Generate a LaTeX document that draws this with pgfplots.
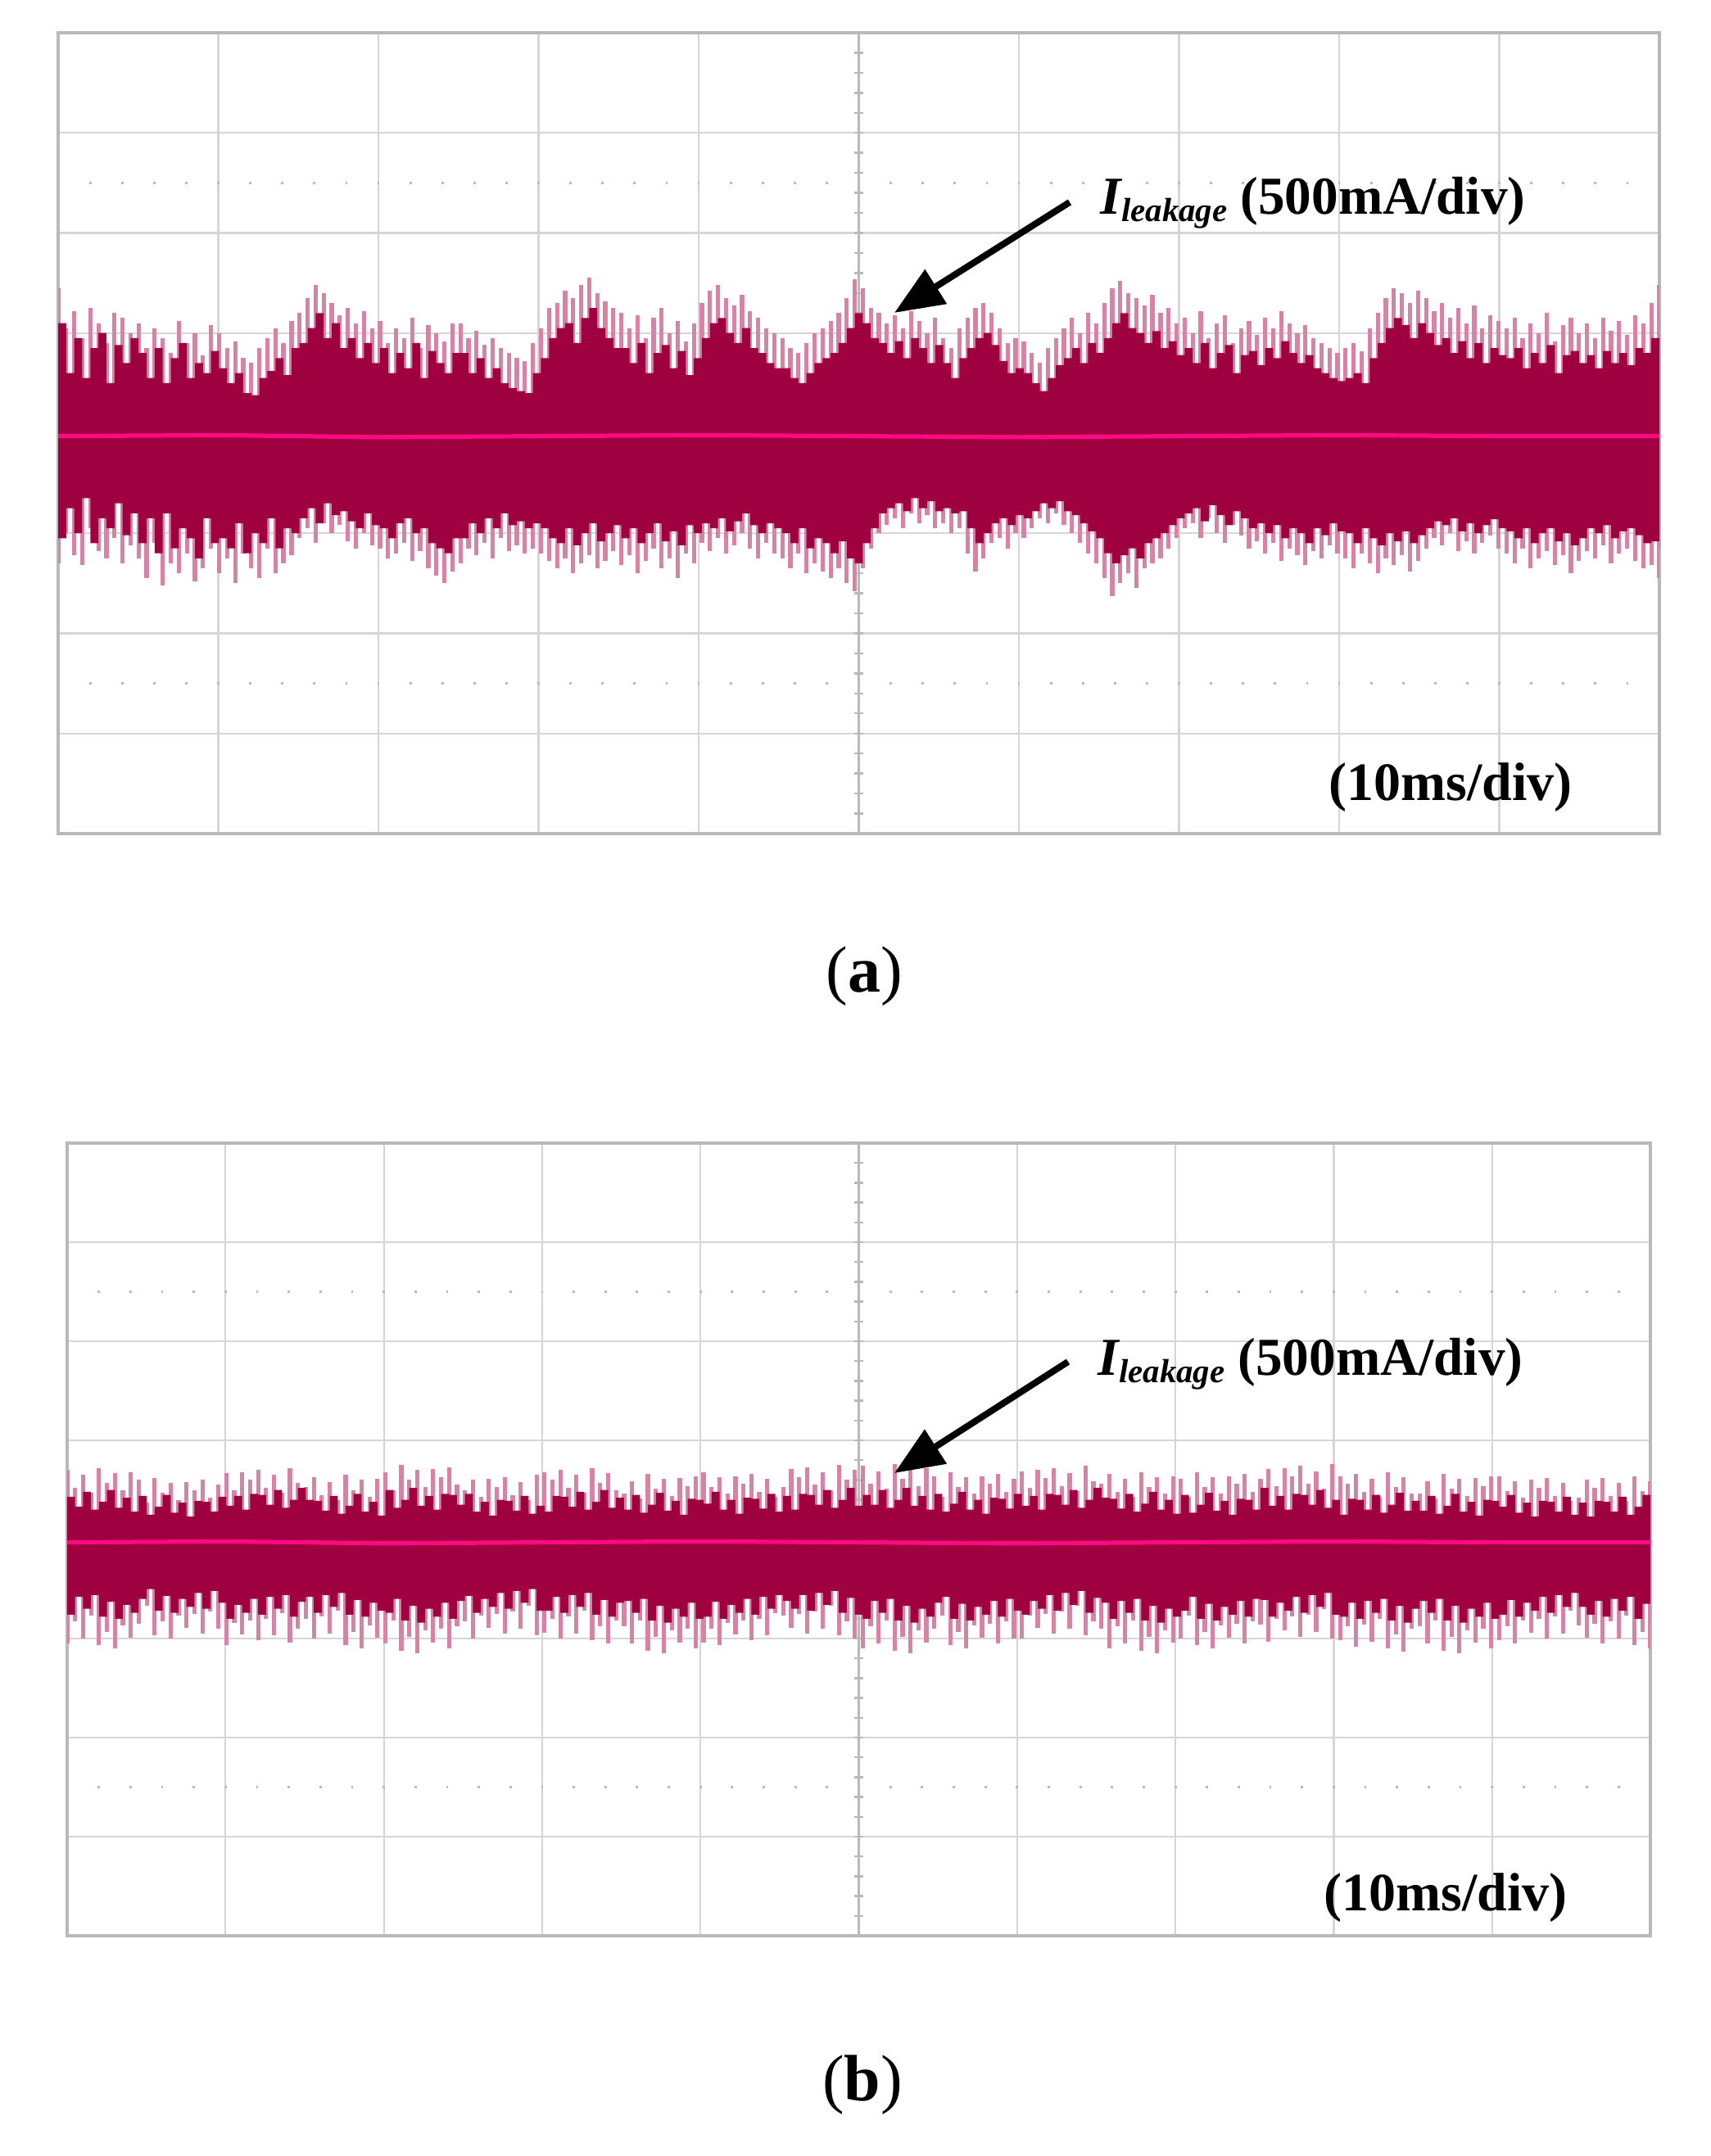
\documentclass[border=0pt]{standalone}
\usepackage{pgfplots}
\pgfplotsset{compat=1.18}
\usepackage{pgfplotstable}
\usepackage{fontspec}
\setmainfont{Liberation Serif}
\usetikzlibrary{arrows.meta}
\definecolor{crim}{RGB}{158,0,64}
\definecolor{spike}{RGB}{216,130,166}
\definecolor{hotp}{RGB}{255,10,130}
\definecolor{gridc}{RGB}{214,214,214}
\definecolor{framec}{RGB}{185,185,185}

\pgfplotstableread{
lu ll du dl
1.45 -1.30 1.10 -1.05
1.05 -1.00 0.60 -0.75
1.22 -1.22 0.95 -1.00
0.95 -1.32 0.55 -0.65
1.25 -0.95 0.85 -1.10
1.10 -1.18 1.00 -0.85
0.90 -1.25 0.50 -0.95
1.20 -1.05 0.88 -0.70
1.15 -1.30 0.70 -1.02
1.00 -1.12 0.95 -0.80
1.10 -1.25 0.80 -1.10
0.85 -1.45 0.55 -0.85
1.05 -1.10 0.85 -1.20
0.95 -1.52 0.50 -0.80
0.80 -1.30 0.75 -1.15
1.12 -1.40 0.90 -0.95
0.90 -1.20 0.55 -1.05
1.00 -1.48 0.70 -1.25
0.78 -1.35 0.60 -0.85
1.08 -1.15 0.82 -1.10
1.00 -1.40 0.65 -1.05
0.85 -1.25 0.50 -1.15
0.92 -1.50 0.60 -0.90
0.75 -1.20 0.40 -1.20
0.70 -1.35 0.38 -1.00
0.85 -1.45 0.55 -1.10
0.95 -1.15 0.62 -0.85
1.05 -1.40 0.75 -1.15
0.90 -1.30 0.58 -0.95
1.12 -1.22 0.85 -1.00
1.20 -1.05 0.90 -0.85
1.35 -0.95 1.05 -0.75
1.48 -1.10 1.20 -0.90
1.40 -0.90 0.95 -0.70
1.30 -1.00 1.10 -0.82
1.18 -0.92 0.85 -0.78
1.25 -1.08 0.95 -0.88
1.10 -1.15 0.75 -0.95
1.22 -1.00 0.90 -0.80
1.05 -1.12 0.70 -0.92
1.12 -1.15 0.85 -0.95
0.90 -1.25 0.60 -1.05
1.05 -1.20 0.80 -0.90
0.95 -1.10 0.65 -0.85
1.15 -1.28 0.90 -1.00
0.85 -1.18 0.55 -0.95
1.08 -1.35 0.82 -1.10
1.00 -1.42 0.70 -1.15
0.92 -1.50 0.60 -1.20
1.10 -1.38 0.80 -1.05
1.10 -1.30 0.80 -1.05
0.95 -1.15 0.60 -0.90
1.02 -1.22 0.75 -1.00
0.88 -1.10 0.55 -0.85
0.95 -1.25 0.65 -0.95
0.85 -1.05 0.50 -0.80
0.80 -1.18 0.45 -0.92
0.75 -1.12 0.42 -0.88
0.72 -1.20 0.40 -0.95
0.90 -1.15 0.60 -0.90
1.05 -1.20 0.75 -0.95
1.25 -1.28 0.95 -1.05
1.30 -1.35 1.05 -1.10
1.42 -1.25 1.10 -0.95
1.35 -1.40 0.90 -1.12
1.48 -1.30 1.15 -1.00
1.55 -1.22 1.25 -0.90
1.40 -1.35 1.05 -1.08
1.32 -1.28 0.95 -1.00
1.25 -1.18 0.85 -0.92
1.20 -1.32 0.85 -1.05
1.05 -1.22 0.70 -0.95
1.18 -1.40 0.90 -1.10
0.95 -1.28 0.60 -1.00
1.15 -1.15 0.80 -0.90
1.25 -1.35 0.88 -1.08
1.00 -1.25 0.65 -0.98
1.12 -1.45 0.82 -1.12
0.92 -1.20 0.58 -0.92
1.10 -1.30 0.75 -1.00
1.30 -1.10 0.95 -0.90
1.42 -1.18 1.10 -0.95
1.48 -1.05 1.15 -0.85
1.35 -1.20 1.00 -0.98
1.28 -1.12 0.90 -0.88
1.38 -1.00 1.05 -0.80
1.22 -1.15 0.85 -0.92
1.15 -1.25 0.80 -1.00
1.05 -1.10 0.70 -0.90
1.00 -1.20 0.65 -0.95
0.95 -1.25 0.65 -1.00
0.85 -1.35 0.55 -1.10
0.80 -1.20 0.50 -0.95
0.90 -1.40 0.60 -1.15
1.00 -1.30 0.70 -1.05
1.05 -1.38 0.75 -1.10
1.12 -1.45 0.80 -1.20
1.20 -1.35 0.90 -1.08
1.35 -1.50 1.05 -1.25
1.54 -1.58 1.20 -1.30
1.45 -1.35 1.10 -1.10
1.25 -1.15 0.95 -0.95
1.20 -1.00 0.90 -0.80
1.10 -0.92 0.80 -0.75
1.18 -0.85 0.92 -0.70
1.05 -0.95 0.75 -0.78
1.22 -0.80 0.95 -0.65
1.12 -0.90 0.85 -0.75
1.00 -0.82 0.70 -0.68
1.15 -0.95 0.88 -0.78
0.95 -0.90 0.70 -0.75
0.85 -1.00 0.55 -0.80
1.05 -0.95 0.75 -0.78
1.15 -1.20 0.85 -0.95
1.25 -1.38 0.95 -1.10
1.30 -1.25 1.00 -1.00
1.20 -1.10 0.88 -0.90
1.05 -1.05 0.72 -0.85
0.90 -1.15 0.60 -0.92
0.95 -1.00 0.65 -0.82
0.92 -1.05 0.60 -0.85
0.80 -0.95 0.50 -0.78
0.70 -0.85 0.42 -0.70
0.85 -0.90 0.55 -0.75
0.95 -0.80 0.68 -0.68
1.05 -0.92 0.75 -0.78
1.15 -1.00 0.85 -0.82
1.00 -1.10 0.70 -0.90
1.20 -1.20 0.90 -0.98
1.10 -1.30 0.80 -1.05
1.30 -1.45 0.95 -1.20
1.45 -1.63 1.10 -1.30
1.52 -1.50 1.20 -1.22
1.40 -1.40 1.05 -1.15
1.35 -1.55 1.00 -1.25
1.28 -1.35 0.90 -1.10
1.38 -1.30 1.02 -1.05
1.20 -1.25 0.85 -1.00
1.25 -1.15 0.92 -0.92
1.10 -1.05 0.78 -0.85
1.15 -0.95 0.85 -0.80
1.00 -0.90 0.70 -0.75
1.22 -1.05 0.90 -0.88
0.95 -0.85 0.65 -0.72
1.10 -1.00 0.80 -0.82
1.18 -1.10 0.88 -0.92
0.90 -0.92 0.60 -0.78
1.05 -1.02 0.78 -0.85
1.12 -1.15 0.82 -0.95
0.98 -1.08 0.68 -0.90
1.15 -1.20 0.85 -1.00
1.05 -1.10 0.75 -0.92
1.22 -1.28 0.92 -1.05
1.10 -1.15 0.80 -0.95
1.00 -1.22 0.70 -1.00
1.08 -1.32 0.78 -1.10
0.95 -1.18 0.65 -0.95
0.90 -1.25 0.60 -1.02
0.85 -1.12 0.55 -0.90
0.80 -1.20 0.52 -0.98
0.85 -1.25 0.55 -1.00
0.90 -1.35 0.60 -1.10
0.82 -1.20 0.50 -0.95
1.05 -1.30 0.75 -1.05
1.20 -1.40 0.90 -1.12
1.35 -1.25 1.05 -1.00
1.45 -1.32 1.15 -1.08
1.40 -1.22 1.08 -0.98
1.30 -1.38 0.95 -1.10
1.42 -1.28 1.10 -1.02
1.35 -1.15 1.00 -0.95
1.22 -1.05 0.88 -0.88
1.30 -1.12 0.95 -0.92
1.15 -1.00 0.80 -0.85
1.25 -1.18 0.92 -0.98
1.10 -1.08 0.75 -0.90
1.28 -1.20 0.90 -1.00
1.05 -1.10 0.70 -0.92
1.18 -1.02 0.85 -0.86
1.12 -1.15 0.78 -0.95
1.05 -1.20 0.75 -0.98
1.15 -1.30 0.85 -1.05
0.95 -1.15 0.65 -0.95
1.10 -1.35 0.80 -1.10
1.00 -1.25 0.70 -1.00
1.20 -1.18 0.88 -0.95
0.92 -1.32 0.60 -1.08
1.08 -1.22 0.78 -1.00
1.15 -1.40 0.82 -1.12
1.00 -1.28 0.70 -1.05
1.10 -1.18 0.78 -0.95
0.95 -1.25 0.65 -1.00
1.15 -1.12 0.82 -0.92
1.02 -1.30 0.70 -1.05
1.12 -1.20 0.80 -0.98
0.98 -1.15 0.68 -0.95
1.18 -1.28 0.85 -1.02
1.10 -1.35 0.80 -1.10
1.30 -1.32 0.95 -1.08
1.48 -1.45 1.15 -1.15
}\dataA

\pgfplotstableread{
lu ll du dl
0.70 -1.05 0.43 -0.76
0.52 -0.83 0.33 -0.58
0.65 -1.00 0.48 -0.70
0.47 -0.77 0.30 -0.56
0.72 -1.07 0.38 -0.78
0.57 -0.93 0.50 -0.63
0.67 -1.10 0.32 -0.80
0.50 -0.87 0.42 -0.66
0.68 -0.99 0.28 -0.74
0.60 -0.85 0.44 -0.60
0.37 -0.67 0.25 -0.50
0.62 -0.97 0.33 -0.72
0.47 -0.83 0.45 -0.57
0.57 -1.00 0.27 -0.74
0.40 -0.77 0.37 -0.60
0.58 -0.89 0.23 -0.68
0.50 -0.75 0.39 -0.54
0.60 -0.95 0.38 -0.70
0.42 -0.73 0.28 -0.52
0.55 -0.90 0.43 -0.64
0.67 -1.07 0.34 -0.80
0.50 -0.84 0.44 -0.66
0.68 -0.96 0.30 -0.74
0.60 -0.82 0.46 -0.60
0.70 -1.02 0.45 -0.76
0.52 -0.80 0.35 -0.58
0.65 -0.97 0.50 -0.70
0.47 -0.74 0.32 -0.56
0.72 -1.04 0.40 -0.78
0.57 -0.90 0.52 -0.63
0.53 -0.80 0.40 -0.58
0.63 -1.00 0.39 -0.74
0.45 -0.78 0.29 -0.56
0.58 -0.95 0.44 -0.68
0.40 -0.72 0.26 -0.54
0.65 -1.07 0.34 -0.76
0.50 -0.93 0.46 -0.61
0.60 -1.10 0.28 -0.78
0.43 -0.87 0.38 -0.64
0.61 -0.99 0.24 -0.72
0.68 -1.05 0.50 -0.74
0.50 -0.82 0.32 -0.60
0.75 -1.12 0.40 -0.82
0.60 -0.98 0.52 -0.67
0.70 -1.15 0.34 -0.84
0.53 -0.92 0.44 -0.70
0.71 -1.04 0.30 -0.78
0.63 -0.90 0.46 -0.64
0.73 -1.10 0.45 -0.80
0.55 -0.88 0.35 -0.62
0.50 -0.83 0.46 -0.57
0.60 -1.00 0.28 -0.74
0.43 -0.77 0.38 -0.60
0.61 -0.89 0.24 -0.68
0.53 -0.75 0.40 -0.54
0.63 -0.95 0.39 -0.70
0.45 -0.73 0.29 -0.52
0.58 -0.90 0.44 -0.64
0.40 -0.67 0.26 -0.50
0.65 -0.97 0.34 -0.72
0.68 -0.94 0.28 -0.72
0.60 -0.80 0.44 -0.58
0.70 -1.00 0.43 -0.74
0.52 -0.78 0.33 -0.56
0.65 -0.95 0.48 -0.68
0.47 -0.72 0.30 -0.54
0.72 -1.02 0.38 -0.76
0.57 -0.88 0.50 -0.61
0.67 -1.05 0.32 -0.78
0.50 -0.82 0.42 -0.64
0.46 -0.88 0.30 -0.62
0.59 -1.05 0.45 -0.74
0.41 -0.82 0.27 -0.60
0.66 -1.12 0.35 -0.82
0.51 -0.98 0.47 -0.67
0.61 -1.15 0.29 -0.84
0.44 -0.92 0.39 -0.70
0.62 -1.04 0.25 -0.78
0.54 -0.90 0.41 -0.64
0.64 -1.10 0.40 -0.80
0.68 -1.04 0.36 -0.78
0.53 -0.90 0.48 -0.63
0.63 -1.07 0.30 -0.80
0.46 -0.84 0.40 -0.66
0.64 -0.96 0.26 -0.74
0.56 -0.82 0.42 -0.60
0.66 -1.02 0.41 -0.76
0.48 -0.80 0.31 -0.58
0.61 -0.97 0.46 -0.70
0.43 -0.74 0.28 -0.56
0.53 -0.77 0.44 -0.62
0.71 -0.89 0.30 -0.70
0.63 -0.75 0.46 -0.56
0.73 -0.95 0.45 -0.72
0.55 -0.73 0.35 -0.54
0.68 -0.90 0.50 -0.66
0.50 -0.67 0.32 -0.52
0.75 -0.97 0.40 -0.74
0.60 -0.83 0.52 -0.59
0.70 -1.00 0.34 -0.76
0.74 -1.10 0.45 -0.80
0.56 -0.88 0.35 -0.62
0.69 -1.05 0.50 -0.74
0.51 -0.82 0.32 -0.60
0.76 -1.12 0.40 -0.82
0.61 -0.98 0.52 -0.67
0.71 -1.15 0.34 -0.84
0.54 -0.92 0.44 -0.70
0.72 -1.04 0.30 -0.78
0.64 -0.90 0.46 -0.64
0.43 -0.77 0.28 -0.58
0.68 -1.07 0.36 -0.80
0.53 -0.93 0.48 -0.65
0.63 -1.10 0.30 -0.82
0.46 -0.87 0.40 -0.68
0.64 -0.99 0.26 -0.76
0.56 -0.85 0.42 -0.62
0.66 -1.05 0.41 -0.78
0.48 -0.83 0.31 -0.60
0.61 -1.00 0.46 -0.72
0.69 -1.00 0.34 -0.76
0.52 -0.77 0.44 -0.62
0.70 -0.89 0.30 -0.70
0.62 -0.75 0.46 -0.56
0.72 -0.95 0.45 -0.72
0.54 -0.73 0.35 -0.54
0.67 -0.90 0.50 -0.66
0.49 -0.67 0.32 -0.52
0.74 -0.97 0.40 -0.74
0.59 -0.83 0.52 -0.59
0.56 -0.90 0.42 -0.64
0.66 -1.10 0.41 -0.80
0.48 -0.88 0.31 -0.62
0.61 -1.05 0.46 -0.74
0.43 -0.82 0.28 -0.60
0.68 -1.12 0.36 -0.82
0.53 -0.98 0.48 -0.67
0.63 -1.15 0.30 -0.84
0.46 -0.92 0.40 -0.70
0.64 -1.04 0.26 -0.78
0.61 -1.00 0.45 -0.72
0.43 -0.77 0.27 -0.58
0.68 -1.07 0.35 -0.80
0.53 -0.93 0.47 -0.65
0.63 -1.10 0.29 -0.82
0.46 -0.87 0.39 -0.68
0.64 -0.99 0.25 -0.76
0.56 -0.85 0.41 -0.62
0.66 -1.05 0.40 -0.78
0.48 -0.83 0.30 -0.60
0.61 -0.86 0.52 -0.61
0.71 -1.03 0.34 -0.78
0.54 -0.80 0.44 -0.64
0.72 -0.92 0.30 -0.72
0.64 -0.78 0.46 -0.58
0.74 -0.98 0.45 -0.74
0.56 -0.76 0.35 -0.56
0.69 -0.93 0.50 -0.68
0.51 -0.70 0.32 -0.54
0.76 -1.00 0.40 -0.76
0.64 -1.02 0.25 -0.78
0.56 -0.88 0.41 -0.64
0.66 -1.08 0.40 -0.80
0.48 -0.86 0.30 -0.62
0.61 -1.03 0.45 -0.74
0.43 -0.80 0.27 -0.60
0.68 -1.10 0.35 -0.82
0.53 -0.96 0.47 -0.67
0.63 -1.13 0.29 -0.84
0.46 -0.90 0.39 -0.70
0.46 -0.88 0.29 -0.62
0.59 -1.05 0.44 -0.74
0.41 -0.82 0.26 -0.60
0.66 -1.12 0.34 -0.82
0.51 -0.98 0.46 -0.67
0.61 -1.15 0.28 -0.84
0.44 -0.92 0.38 -0.70
0.62 -1.04 0.24 -0.78
0.54 -0.90 0.40 -0.64
0.64 -1.10 0.39 -0.80
0.64 -1.02 0.33 -0.76
0.49 -0.88 0.45 -0.61
0.59 -1.05 0.27 -0.78
0.42 -0.82 0.37 -0.64
0.60 -0.94 0.23 -0.72
0.52 -0.80 0.39 -0.58
0.62 -1.00 0.38 -0.74
0.44 -0.78 0.28 -0.56
0.57 -0.95 0.43 -0.68
0.39 -0.72 0.25 -0.54
0.42 -0.87 0.37 -0.68
0.60 -0.99 0.23 -0.76
0.52 -0.85 0.39 -0.62
0.62 -1.05 0.38 -0.78
0.44 -0.83 0.28 -0.60
0.57 -1.00 0.43 -0.72
0.39 -0.77 0.25 -0.58
0.64 -1.07 0.33 -0.80
0.49 -0.93 0.45 -0.65
0.59 -1.10 0.27 -0.82
}\dataB

\pgfplotsset{
  scope/.style={
    anchor=south west, scale only axis,
    xmin=0, xmax=10, ymin=-4, ymax=4,
    xtick={1,...,9}, ytick={-3,...,3},
    xticklabels={}, yticklabels={},
    major tick length=0pt,
    grid=major,
    major grid style={gridc, line width=0.55pt},
    axis line style={framec, line width=0.8pt},
  },
}

\newcommand{\signal}[1]{%
  \addplot[ycomb, draw=spike, line width=1.3pt, mark=none] table[x expr=\coordindex*10/199, y=lu] {#1};
  \addplot[ycomb, draw=spike, line width=1.3pt, mark=none] table[x expr=\coordindex*10/199, y=ll] {#1};
  \addplot[const plot, fill=crim, draw=none, mark=none] table[x expr=\coordindex*10/199, y=du] {#1} \closedcycle;
  \addplot[const plot, fill=crim, draw=none, mark=none] table[x expr=\coordindex*10/199, y=dl] {#1} \closedcycle;
  \addplot[hotp, line width=1.3pt, mark=none] coordinates {(0,-0.03) (1,-0.02) (2,-0.04) (3,-0.03) (4,-0.02) (5,-0.03) (6,-0.04) (7,-0.03) (8,-0.02) (9,-0.03) (10,-0.03)};
}

\newcommand{\decor}[1]{%
  \draw[gray!55, line width=0.6pt] (axis cs:5,-4) -- (axis cs:5,4);
  \pgfplotsinvokeforeach{-3.8,-3.6,...,3.8}{\draw[gray!55, line width=0.6pt] ([xshift=-1.3pt]axis cs:5,##1) -- ([xshift=1.3pt]axis cs:5,##1);}
  \draw[gray!55, line width=0.7pt, dash pattern=on 0.7pt off #1] ([xshift=-0.35pt]axis cs:0.2,2.5) -- (axis cs:10,2.5);
  \draw[gray!55, line width=0.7pt, dash pattern=on 0.7pt off #1] ([xshift=-0.35pt]axis cs:0.2,-2.5) -- (axis cs:10,-2.5);
}

\newcommand{\ileak}{\fontsize{16.3}{19}\selectfont\bfseries\itshape I\raisebox{-2.2pt}{\fontsize{10.2}{12}\selectfont leakage}\upshape\ (500mA/div)}

\begin{document}
\begin{tikzpicture}
\path[use as bounding box] (0,0) rectangle (522pt,658.25pt);

\begin{axis}[scope, at={(17.75pt,403.75pt)}, width=488.75pt, height=244.5pt]
  \decor{9.075pt}
  \signal{\dataA}
\end{axis}

\begin{axis}[scope, at={(20.5pt,67.25pt)}, width=483.25pt, height=242pt]
  \decor{8.965pt}
  \signal{\dataB}
\end{axis}

% annotations panel (a)
\draw[line width=2pt, -{Triangle[length=15pt,width=12pt]}] (326.5pt,596.5pt) -- (273pt,562.75pt);
\node[anchor=base west, inner sep=0pt] at (335.75pt,592.75pt) {\ileak};
\node[anchor=base west, inner sep=0pt] at (405.5pt,413.75pt)
  {\fontsize{16.5}{19}\selectfont\bfseries (10ms/div)};
\node[anchor=base, inner sep=0pt] at (263.75pt,355.25pt)
  {\fontsize{20}{24}\selectfont (\textbf{a})};

% annotations panel (b)
\draw[line width=2pt, -{Triangle[length=15pt,width=12pt]}] (326pt,242.5pt) -- (273pt,208.5pt);
\node[anchor=base west, inner sep=0pt] at (335pt,238.25pt) {\ileak};
\node[anchor=base west, inner sep=0pt] at (404pt,74.75pt)
  {\fontsize{16.5}{19}\selectfont\bfseries (10ms/div)};
\node[anchor=base, inner sep=0pt] at (263.25pt,16.75pt)
  {\fontsize{20}{24}\selectfont (\textbf{b})};
\end{tikzpicture}
\end{document}
